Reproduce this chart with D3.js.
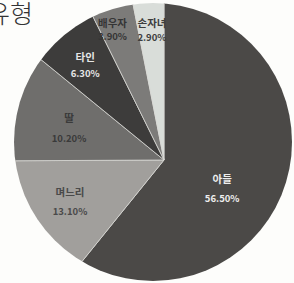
<!DOCTYPE html>
<html>
<head>
<meta charset="utf-8">
<script src="https://cdn.jsdelivr.net/npm/d3@7"></script>
<style>
  html, body { margin: 0; padding: 0; background: #fdfdfb; }
  svg { display: block; }
</style>
</head>
<body>
<svg id="chart" width="294" height="283"></svg>
<script>
// 데이터
const categories = ["아들", "며느리", "딸", "타인", "배우자", "손자녀"];
const values = [56.5, 13.1, 10.2, 6.3, 3.9, 2.9];
const labels = ["56.50%", "13.10%", "10.20%", "6.30%", "3.90%", "2.90%"];

// 모양
const fills = ["#4b4947", "#a19f9c", "#6f6e6c", "#3d3c3b", "#7c7b79", "#d9ddd9"];
const textColors = ["#eeeeee", "#4a4a4a", "#3a3a3a", "#e6e6e6", "#353535", "#3e3e3e"];
// 라벨 위치 (반지름, 각도 보정(도), 줄 간격 절반)
const labelR = [65, 103, 100, 123, 140, 130];
const labelTurn = [7, 1.6, -1.2, -1.3, -2.8, 0.3];
const labelGap = [9.5, 9.5, 10.5, 8, 7, 7.5];

const svg = d3.select("#chart");

// 꼭짓점(조각이 모이는 점)과 원
const apex = { x: 164, y: 160 };
const circ = { x: 153, y: 142, r: 139 };

svg.append("defs").append("clipPath")
    .attr("id", "pieClip")
    .append("circle")
    .attr("cx", circ.x)
    .attr("cy", circ.y)
    .attr("r", circ.r);

const pie = d3.pie().sort(null).value(d => d);
const arcs = pie(values);

const arc = d3.arc().innerRadius(0).outerRadius(230);

const g = svg.append("g")
    .attr("clip-path", "url(#pieClip)")
    .append("g")
    .attr("transform", `translate(${apex.x},${apex.y})`);

g.selectAll("path")
    .data(arcs)
    .enter().append("path")
    .attr("d", arc)
    .style("fill", (d, i) => fills[i])
    .style("stroke", "#d8d8d4")
    .style("stroke-width", "0.8px");

// 라벨
const lab = svg.append("g")
    .attr("transform", `translate(${apex.x},${apex.y})`)
    .attr("font-family", "'Noto Sans CJK KR', 'Noto Sans', sans-serif")
    .attr("font-weight", "bold")
    .attr("text-anchor", "middle");

arcs.forEach((d, i) => {
    const a = (d.startAngle + d.endAngle) / 2 + labelTurn[i] * Math.PI / 180;
    const x = Math.sin(a) * labelR[i];
    const y = -Math.cos(a) * labelR[i];
    lab.append("text")
        .attr("x", x)
        .attr("y", y - labelGap[i])
        .attr("dy", "0.35em")
        .attr("font-size", 10.5)
        .style("fill", textColors[i])
        .text(categories[i]);
    lab.append("text")
        .attr("x", x)
        .attr("y", y + labelGap[i])
        .attr("dy", "0.35em")
        .attr("font-size", 9.5)
        .style("fill", textColors[i])
        .text(labels[i]);
});

// 제목 (잘려 있음)
svg.append("text")
    .attr("x", -13)
    .attr("y", 23)
    .attr("font-family", "'Noto Sans CJK KR', sans-serif")
    .attr("font-weight", 300)
    .attr("font-size", 25)
    .style("fill", "#333")
    .text("유형");
</script>
</body>
</html>
